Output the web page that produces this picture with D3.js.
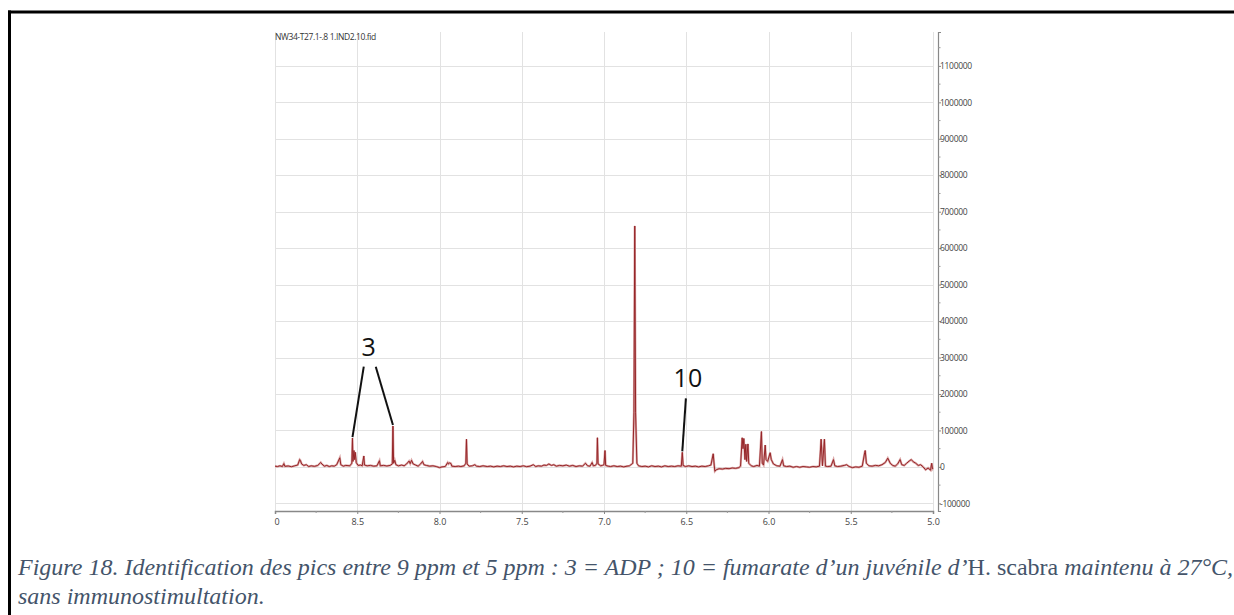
<!DOCTYPE html>
<html>
<head>
<meta charset="utf-8">
<script src="https://cdn.jsdelivr.net/npm/d3@7"></script>
<style>
  body { margin: 0; background: #fff; }
  svg { display: block; }
</style>
</head>
<body>
<div id="chart-area"></div>
<script>
// spectrum: chemical shift (ppm) and intensity
const shift = [
  9.000, 8.985, 8.970, 8.955, 8.946, 8.940, 8.920, 8.900, 8.880, 8.862, 8.850, 8.846, 8.838, 8.825,
  8.810, 8.795, 8.780, 8.760, 8.740, 8.722, 8.715, 8.700, 8.685, 8.670, 8.655, 8.640, 8.625, 8.606,
  8.600, 8.585, 8.570, 8.545, 8.533, 8.529, 8.526, 8.520, 8.516, 8.512, 8.506, 8.495, 8.480, 8.470,
  8.460, 8.456, 8.440, 8.420, 8.400, 8.380, 8.365, 8.360, 8.340, 8.320, 8.300, 8.287, 8.283, 8.279,
  8.272, 8.265, 8.250, 8.230, 8.215, 8.200, 8.185, 8.178, 8.170, 8.160, 8.145, 8.130, 8.115, 8.103,
  8.095, 8.080, 8.060, 8.040, 8.020, 8.000, 7.985, 7.965, 7.950, 7.945, 7.938, 7.930, 7.925, 7.905,
  7.885, 7.870, 7.850, 7.840, 7.836, 7.832, 7.820, 7.800, 7.785, 7.775, 7.755, 7.735, 7.710, 7.690,
  7.670, 7.650, 7.630, 7.610, 7.590, 7.570, 7.550, 7.530, 7.510, 7.490, 7.470, 7.450, 7.430, 7.415,
  7.400, 7.380, 7.365, 7.350, 7.335, 7.320, 7.305, 7.290, 7.270, 7.250, 7.230, 7.210, 7.190, 7.170,
  7.150, 7.130, 7.113, 7.100, 7.085, 7.072, 7.065, 7.052, 7.043, 7.040, 7.036, 7.020, 7.010, 7.000,
  6.994, 6.990, 6.975, 6.960, 6.940, 6.920, 6.900, 6.880, 6.860, 6.845, 6.830, 6.825, 6.818, 6.813,
  6.808, 6.800, 6.790, 6.770, 6.750, 6.730, 6.710, 6.690, 6.670, 6.650, 6.630, 6.610, 6.590, 6.570,
  6.550, 6.530, 6.524, 6.519, 6.505, 6.485, 6.465, 6.445, 6.425, 6.405, 6.385, 6.365, 6.350, 6.336,
  6.330, 6.326, 6.318, 6.300, 6.280, 6.260, 6.240, 6.220, 6.200, 6.180, 6.170, 6.160, 6.155, 6.150,
  6.143, 6.138, 6.133, 6.125, 6.120, 6.105, 6.090, 6.070, 6.055, 6.043, 6.038, 6.030, 6.020, 6.015,
  6.005, 5.990, 5.983, 5.970, 5.950, 5.930, 5.915, 5.908, 5.890, 5.870, 5.850, 5.830, 5.810, 5.790,
  5.770, 5.750, 5.730, 5.710, 5.690, 5.680, 5.672, 5.660, 5.654, 5.640, 5.620, 5.605, 5.597, 5.580,
  5.560, 5.540, 5.525, 5.510, 5.490, 5.470, 5.450, 5.430, 5.415, 5.412, 5.405, 5.390, 5.370, 5.350,
  5.330, 5.310, 5.290, 5.275, 5.260, 5.245, 5.230, 5.215, 5.200, 5.190, 5.175, 5.160, 5.145, 5.132,
  5.120, 5.105, 5.090, 5.075, 5.060, 5.045, 5.030, 5.015, 5.008, 5.003, 5.000
]
const intensity = [
  2000, 1000, 3000, 1000, 9000, 1500, 2500, 500, 3000, 5000, 20000, 18000, 8000, 4000,
  6000, 1000, 3000, 1500, 4000, 12000, 8000, 2000, 4000, 1000, 3000, 2000, 6000, 25000,
  6000, 2000, 4000, 3000, 10000, 79000, 15000, 45000, 20000, 40000, 12000, 4000, 5000, 3000,
  30000, 5000, 3000, 4000, 2000, 3000, 17000, 3000, 4000, 2500, 4000, 8000, 112000, 10000,
  18000, 6000, 3000, 5000, 3000, 8000, 16000, 9000, 18000, 8000, 5000, 2000, 8000, 15000,
  6000, 4000, 2000, 3000, 1000, -2000, 0, 1000, 12000, 8000, 11000, 9000, 2000, 1000,
  2000, 1000, 3000, 10000, 76000, 8000, 2000, 3000, 6000, 2000, 1000, 3000, 1000, 2000,
  0, 2000, 1000, 3000, 1000, 2000, 0, 2000, 1000, 3000, 500, 2000, 6000, 1000,
  3000, 2000, 5000, 4000, 8000, 4000, 6000, 2000, 4000, 3000, 5000, 2000, 4000, 1000,
  3000, 2000, 10000, 3000, 2000, 12000, 3000, 4000, 10000, 80000, 8000, 3000, 4000, 6000,
  45000, 4000, 2000, 1000, 3000, 1000, 2000, 0, 2000, 3000, 8000, 10000, 150000, 661000,
  150000, 10000, 3000, 1000, 2000, 0, 3000, 1000, 2000, 0, 3000, 1000, 2000, 1000,
  3000, 2000, 40000, 4000, 1000, 3000, 1000, 2000, 0, 2000, 1000, 3000, 5000, 36000,
  5000, -12000, -8000, -5000, -6000, -4000, -5000, -3000, -4000, -2000, 2000, 80000, 50000, 78000,
  20000, 62000, 15000, 63000, 10000, 3000, 1000, 4000, 2000, 97000, 10000, 5000, 60000, 20000,
  15000, 39000, 20000, 8000, 3000, 2000, 20000, 3000, 1000, 2000, -1000, 1000, -1000, 1000,
  0, -1000, 1000, 0, 2000, 76000, 3000, 76000, 2000, 1000, 2000, 20000, 3000, 1000,
  2000, 4000, 6000, 1000, -2000, 0, -1000, 2000, 40000, 45000, 10000, 3000, 2000, 4000,
  3000, 6000, 12000, 24000, 10000, 4000, 2000, 8000, 20000, 6000, 4000, 10000, 16000, 20000,
  14000, 10000, 4000, 6000, 0, -8000, -3000, -9000, 10000, -5000, -3000
]

// axis ticks
const xTicks = [9.0, 8.5, 8.0, 7.5, 7.0, 6.5, 6.0, 5.5, 5.0]
const xTickLabels = ["0", "8.5", "8.0", "7.5", "7.0", "6.5", "6.0", "5.5", "5.0"]
const xMinorTicks = [8.75, 8.25, 7.75, 7.25, 6.75, 6.25, 5.75, 5.25]
const yTicks = [-100000, 0, 100000, 200000, 300000, 400000, 500000, 600000, 700000, 800000, 900000, 1000000, 1100000]
const yMinorTicks = [-50000, 50000, 150000, 250000, 350000, 450000, 550000, 650000, 750000, 850000, 950000, 1050000, 1150000]

// peak annotations: label, label position (ppm, value), peaks pointed at
const annoLabels = ["3", "10"]
const annoAt = [[8.43, 305000], [6.49, 218000]]
const annoPeaks = [[[8.529, 79000], [8.283, 112000]], [[6.524, 40000]]]

const fileName = "NW34-T27.1-.8 1.IND2.10.fid"
const captionLine1 = [
  ["Figure 18. Identification des pics entre 9 ppm et 5 ppm : 3 = ADP ; 10 = fumarate d\u2019un juvénile d\u2019", true],
  ["H. scabra ", false],
  ["maintenu à 27°C,", true]
]
const captionLine2 = "sans immunostimultation."

const W = 1234, H = 615
const PLOT = { LEFT: 275, RIGHT: 933, TOP: 32, BOTTOM: 511 }

const svg = d3.select("#chart-area").append("svg")
  .attr("width", W)
  .attr("height", H)

svg.append("rect").attr("width", W).attr("height", H).attr("fill", "#fff")

// figure frame (top and left edges only)
svg.append("line").attr("x1", 8).attr("x2", W).attr("y1", 12).attr("y2", 12)
  .attr("stroke", "#000").attr("stroke-width", 3)
svg.append("line").attr("x1", 9.5).attr("x2", 9.5).attr("y1", 10.5).attr("y2", H)
  .attr("stroke", "#000").attr("stroke-width", 3)

const x = d3.scaleLinear().domain([9.0, 5.0]).range([PLOT.LEFT, PLOT.RIGHT])
const y = d3.scaleLinear().domain([-121000, 1193000]).range([PLOT.BOTTOM, PLOT.TOP])

const g = svg.append("g")

// grid
g.append("g").selectAll("line").data(xTicks).join("line")
  .attr("x1", d => Math.round(x(d)) + 0.5).attr("x2", d => Math.round(x(d)) + 0.5)
  .attr("y1", PLOT.TOP).attr("y2", PLOT.BOTTOM)
  .attr("stroke", "#e2e2e2").attr("stroke-width", 1)
g.append("g").selectAll("line").data(yTicks).join("line")
  .attr("x1", PLOT.LEFT).attr("x2", PLOT.RIGHT)
  .attr("y1", d => Math.round(y(d)) + 0.5).attr("y2", d => Math.round(y(d)) + 0.5)
  .attr("stroke", "#e2e2e2").attr("stroke-width", 1)

// file name
svg.append("text")
  .attr("x", PLOT.LEFT).attr("y", 40)
  .attr("font-family", "'Open Sans', sans-serif").attr("font-size", 8.5)
  .attr("letter-spacing", -0.4)
  .attr("fill", "#333")
  .text(fileName)

// x axis
const xAxisCall = d3.axisBottom(x)
  .tickValues(xTicks)
  .tickSize(3)
  .tickFormat((d, i) => xTickLabels[i])
const xAxis = g.append("g")
  .attr("transform", `translate(0, ${PLOT.BOTTOM})`)
  .call(xAxisCall)
xAxis.select(".domain").attr("stroke", "#888").attr("stroke-width", 1.5)
xAxis.selectAll(".tick line").attr("stroke", "#888")
xAxis.selectAll("text")
  .attr("font-family", "'Open Sans', sans-serif").attr("font-size", 9)
  .attr("fill", "#444").attr("dy", "0.9em")
xAxis.selectAll(".tick").filter((d, i) => i === 0).select("text").attr("dx", 1.5)
g.append("g").selectAll("line").data(xMinorTicks).join("line")
  .attr("x1", d => x(d)).attr("x2", d => x(d))
  .attr("y1", PLOT.BOTTOM).attr("y2", PLOT.BOTTOM + 2)
  .attr("stroke", "#999")

// y axis on the right
const yAxisCall = d3.axisRight(y)
  .tickValues(yTicks)
  .tickSize(3)
  .tickFormat(d3.format("d"))
const yAxis = g.append("g")
  .attr("transform", `translate(938, 0)`)
  .call(yAxisCall)
yAxis.select(".domain").attr("stroke", "#888").attr("stroke-width", 1.2)
yAxis.selectAll(".tick line").attr("stroke", "#888")
yAxis.selectAll("text")
  .attr("x", 2)
  .attr("font-family", "'Open Sans', sans-serif").attr("font-size", 8.5)
  .attr("letter-spacing", -0.3)
  .attr("fill", "#444")
yAxis.selectAll(".tick").filter(d => d < 0).select("text").text("-100000")
g.append("g").selectAll("line").data(yMinorTicks).join("line")
  .attr("x1", 938).attr("x2", 940.5)
  .attr("y1", d => y(d)).attr("y2", d => y(d))
  .attr("stroke", "#999")

// spectrum
const points = shift.map((s, i) => [s, intensity[i]])
const line = d3.line()
  .x(d => x(d[0]))
  .y(d => y(d[1]))
g.append("path")
  .attr("fill", "none")
  .attr("stroke", "#dba7a7")
  .attr("stroke-width", 2.2)
  .attr("d", line(points))
g.append("path")
  .attr("fill", "none")
  .attr("stroke", "#962528")
  .attr("stroke-width", 1)
  .attr("d", line(points))

// annotations
annoLabels.forEach((lab, i) => {
  const [lx, lv] = annoAt[i]
  svg.append("text")
    .attr("x", x(lx)).attr("y", y(lv))
    .attr("text-anchor", "middle")
    .attr("font-family", "'Open Sans', sans-serif").attr("font-size", 25)
    .attr("fill", "#111")
    .text(lab)
  annoPeaks[i].forEach((p, j) => {
    const n = annoPeaks[i].length
    const sx = x(lx) + (n > 1 ? (j === 0 ? -5 : 7) : -2)
    svg.append("line")
      .attr("x1", sx).attr("y1", y(lv) + 11)
      .attr("x2", x(p[0])).attr("y2", y(p[1]) - 1)
      .attr("stroke", "#111").attr("stroke-width", 2)
  })
})

// caption
const cap = svg.append("text")
  .attr("x", 18).attr("y", 575)
  .attr("font-family", "'Liberation Serif', 'Times New Roman', serif")
  .attr("font-size", 24)
  .attr("fill", "#44546a")
captionLine1.forEach(([t, it]) => {
  cap.append("tspan").attr("font-style", it ? "italic" : "normal").text(t)
})
svg.append("text")
  .attr("x", 18).attr("y", 604)
  .attr("font-family", "'Liberation Serif', 'Times New Roman', serif")
  .attr("font-size", 24)
  .attr("font-style", "italic")
  .attr("fill", "#44546a")
  .text(captionLine2)
</script>
</body>
</html>
